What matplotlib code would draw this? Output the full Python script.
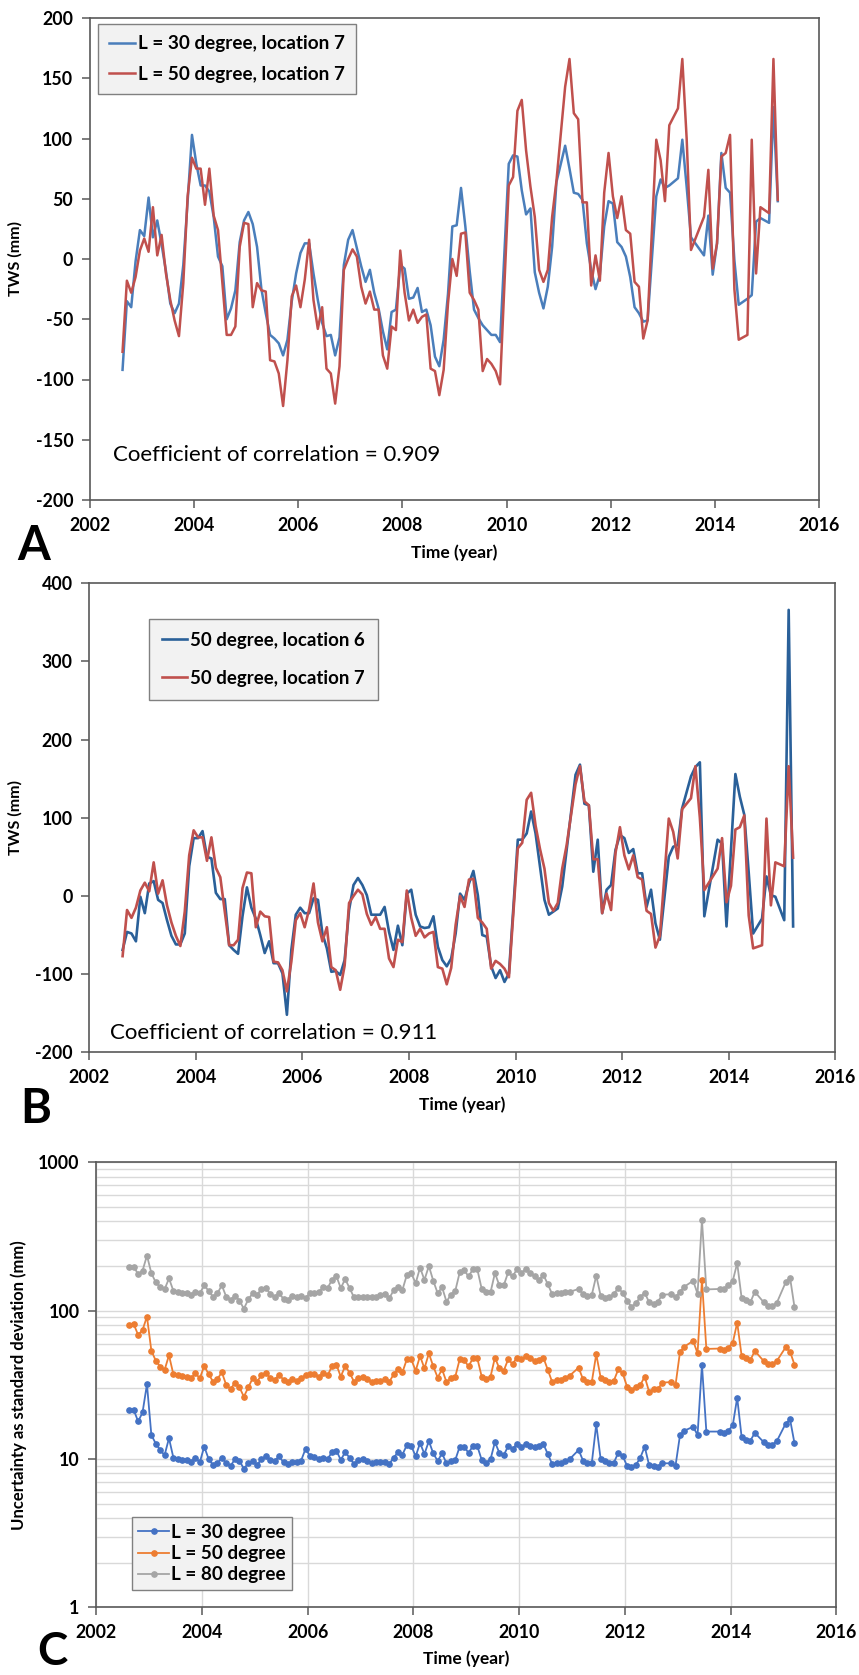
import matplotlib
matplotlib.use('Agg')
import matplotlib.pyplot as plt
from matplotlib.ticker import LogLocator, NullFormatter

plt.rcParams['font.family'] = ['Lato', 'DejaVu Sans']

# ---------------- data ----------------
# months with data (GRACE monthly solutions)
months_present = {
    2002: [8, 9, 10, 11, 12],
    2003: [1, 2, 3, 4, 5, 6, 7, 8, 9, 10, 11, 12],
    2004: [1, 2, 3, 4, 5, 6, 7, 8, 9, 10, 11, 12],
    2005: [1, 2, 3, 4, 5, 6, 7, 8, 9, 10, 11, 12],
    2006: [1, 2, 3, 4, 5, 6, 7, 8, 9, 10, 11, 12],
    2007: [1, 2, 3, 4, 5, 6, 7, 8, 9, 10, 11, 12],
    2008: [1, 2, 3, 4, 5, 6, 7, 8, 9, 10, 11, 12],
    2009: [1, 2, 3, 4, 5, 6, 7, 8, 9, 10, 11, 12],
    2010: [1, 2, 3, 4, 5, 6, 7, 8, 9, 10, 11, 12],
    2011: [2, 3, 4, 5, 6, 7, 8, 9, 10, 11, 12],
    2012: [1, 2, 3, 4, 5, 6, 7, 8, 9, 11, 12],
    2013: [1, 2, 4, 5, 6, 7, 10, 11, 12],
    2014: [1, 2, 3, 4, 5, 6, 8, 9, 10, 11],
    2015: [1, 2, 3],
}

# Panel A: L = 30 degree, location 7
tws_L30_loc7 = [
    -92, -35, -40, -2, 24,
    19, 51, 18, 32, 12, -10, -37, -45, -37, -5, 48, 103,
    79, 61, 61, 56, 35, 2, -6, -50, -41, -26, 14, 32,
    39, 29, 10, -25, -45, -63, -66, -70, -80, -67, -35, -12,
    5, 13, 13, -12, -34, -53, -64, -63, -80, -65, -5, 16,
    24, 9, -6, -19, -9, -28, -41, -60, -75, -44, -42, -5,
    -8, -33, -32, -24, -44, -42, -55, -81, -89, -67, -29, 27,
    28, 59, 27, -10, -42, -49, -55, -59, -63, -63, -69, 5,
    79, 86, 85, 57, 37, 42, -11, -28, -41, -23, 10, 64,
    94, 75, 55, 54, 49, 13, -9, -25, -13, 27, 48,
    46, 14, 10, 2, -15, -40, -45, -52, -51, 52, 66,
    59, 61, 67, 99, 60, 18, 3, 36, -13,
    13, 88, 59, 55, -1, -38, -33, -30, 31, 34,
    30, 126, 48,
]

# L = 50 degree, location 7 (panels A and B)
tws_L50_loc7 = [
    -77, -18, -28, -15, 7,
    17, 6, 43, 3, 20, -12, -34, -51, -64, -20, 52, 84,
    75, 75, 45, 75, 36, 24, -20, -63, -63, -56, 10, 30,
    29, -40, -20, -26, -27, -84, -85, -95, -122, -84, -31, -22,
    -40, -17, 16, -34, -58, -40, -91, -95, -120, -89, -9, 0,
    8, 2, -23, -37, -27, -42, -42, -80, -91, -56, -59, 7,
    -28, -51, -42, -53, -48, -46, -91, -93, -113, -92, -37, 0,
    -14, 21, 22, -28, -34, -42, -93, -83, -87, -93, -104, -22,
    61, 68, 123, 132, 90, 60, 35, -9, -19, -9, 35, 65,
    143, 166, 121, 116, 47, 47, -22, 3, -18, 55, 88,
    52, 34, 52, 24, 21, -19, -23, -66, -51, 99, 82,
    48, 111, 125, 166, 100, 7.5, 35, 74, -8,
    13, 85, 88, 103, -25, -67, -63, 99, -12, 43,
    38, 166, 49,
]

# Panel B: 50 degree, location 6
tws_L50_loc6 = [
    -69, -46, -48, -58, -1,
    -22, 16, 19, -5, -9, -31, -51, -62, -62, -48, 38, 74,
    74, 83, 50, 48, 4, -4, -4, -63, -69, -74, -26, 11,
    -15, -29, -50, -73, -58, -86, -86, -99, -152, -69, -24, -15,
    -22, -22, -3, -5, -48, -67, -97, -96, -101, -82, -18, 14,
    23, 14, 1, -24, -24, -24, -14, -46, -69, -38, -63, 3,
    8, -24, -39, -41, -40, -26, -65, -82, -90, -80, -48, 3,
    -5, 16, 32, 1, -50, -52, -90, -105, -95, -110, -99, -15,
    72, 72, 80, 108, 80, 38, -5, -24, -20, -16, 12, 59,
    155, 168, 118, 116, 31, 72, -22, 8, 14, 59, 78,
    74, 55, 60, 29, 29, -14, 8, -35, -56, 50, 63,
    65, 112, 153, 165, 171, -26, 72, 67, -39,
    58, 156, 127, 104, 30, -48, -29, 25, 1, -1,
    -31, 366, -39,
]

# Panel C: uncertainty as standard deviation (mm)
unc_L30 = [
    21.4, 21.4, 17.9, 20.6, 31.9, 14.5, 12.7, 11.5, 10.6, 13.8,
    10.2, 10.0, 9.85, 9.85, 9.5, 10.2, 9.5, 12.1, 10.0, 9.1,
    9.35, 10.2, 9.35, 9.0, 10.0, 9.7, 8.6, 9.35, 9.7, 9.1,
    10.0, 10.4, 9.85, 9.75, 10.4, 9.5, 9.25, 9.55, 9.5, 9.75,
    11.7, 10.5, 10.3, 10.0, 10.2, 10.0, 11.1, 11.4, 9.85, 11.1,
    10.2, 9.25, 9.85, 10.0, 9.75, 9.35, 9.5, 9.5, 9.5, 9.25,
    10.2, 11.1, 10.7, 12.4, 12.3, 10.4, 12.8, 10.8, 13.2, 10.9,
    9.7, 10.9, 9.35, 9.75, 9.85, 12.1, 12.1, 11.0, 12.2, 12.2,
    9.85, 9.45, 9.95, 13.0, 11.0, 10.6, 12.2, 11.7, 12.6, 12.0,
    12.6, 12.3, 12.1, 12.3, 12.6, 10.8, 9.25, 9.45, 9.45, 9.65,
    10.0, 11.5, 9.75, 9.45, 9.45, 17.1, 10.0, 9.7, 9.45, 9.45,
    11.0, 10.5, 8.97, 8.88, 9.1, 10.2, 12.1, 9.1, 8.97, 8.88,
    9.35, 9.35, 9.0, 14.4, 15.5, 16.5, 14.5, 43.1, 15.3, 15.3,
    15.0, 15.5, 16.9, 25.9, 14.1, 13.4, 13.3, 15.0, 13.0, 12.4,
    12.5, 13.2, 17.3, 18.5, 12.8,
]
unc_L50 = [
    80.1, 80.9, 68.6, 74.1, 91.1, 53.7, 46.0, 42.0, 39.8, 50.0,
    37.2, 36.8, 36.3, 35.9, 35.0, 37.8, 35.0, 42.3, 37.4, 33.2,
    34.6, 38.4, 31.5, 29.6, 32.7, 30.4, 26.3, 30.4, 35.0, 33.2,
    36.8, 38.2, 35.0, 34.3, 36.8, 34.3, 33.0, 34.6, 33.7, 35.0,
    36.8, 37.2, 37.2, 35.9, 37.8, 36.6, 42.1, 43.3, 35.9, 42.3,
    38.2, 33.2, 35.0, 35.9, 34.6, 33.2, 33.7, 33.7, 34.4, 33.0,
    37.2, 40.4, 38.4, 47.0, 47.0, 39.3, 49.4, 40.8, 51.5, 42.1,
    35.4, 40.2, 33.0, 35.0, 35.9, 47.0, 46.5, 42.1, 47.7, 47.7,
    35.9, 34.6, 35.9, 48.2, 40.8, 39.3, 47.0, 43.7, 48.2, 47.0,
    49.2, 48.2, 45.8, 46.5, 48.2, 39.8, 33.0, 34.3, 34.3, 35.4,
    36.5, 41.3, 34.4, 33.2, 33.2, 50.8, 35.4, 34.3, 33.0, 33.7,
    40.2, 37.8, 30.7, 29.2, 30.7, 31.5, 35.9, 28.4, 29.6, 29.6,
    32.7, 33.0, 31.5, 52.3, 57.2, 62.5, 51.6, 161, 55.2, 55.5,
    54.3, 56.3, 60.8, 83.0, 49.8, 47.7, 46.5, 53.5, 45.8, 43.5,
    43.5, 45.8, 56.6, 52.9, 43.3,
]
unc_L80 = [
    198, 198, 176, 186, 235, 179, 155, 144, 139, 165,
    136, 134, 132, 131, 128, 134, 131, 148, 136, 124,
    131, 148, 124, 118, 126, 117, 103, 119, 131, 128,
    140, 142, 130, 124, 131, 120, 118, 126, 123, 126,
    122, 131, 132, 134, 144, 142, 161, 171, 142, 163,
    142, 123, 124, 124, 123, 123, 124, 128, 130, 121,
    137, 144, 138, 174, 179, 153, 195, 161, 200, 159,
    131, 144, 115, 128, 136, 181, 188, 170, 190, 190,
    140, 133, 133, 179, 148, 148, 181, 170, 190, 180,
    190, 180, 170, 161, 174, 151, 129, 131, 132, 134,
    134, 140, 129, 126, 128, 172, 126, 121, 123, 130,
    142, 132, 117, 106, 112, 124, 132, 114, 110, 115,
    128, 129, 123, 134, 145, 159, 130, 409, 139, 140,
    140, 148, 159, 209, 122, 118, 114, 134, 114, 108,
    108, 113, 155, 167, 106,
]

x_ticks = [2002, 2004, 2006, 2008, 2010, 2012, 2014, 2016]
yA_ticks = [-200, -150, -100, -50, 0, 50, 100, 150, 200]
yB_ticks = [-200, -100, 0, 100, 200, 300, 400]
yC_ticks = [1, 10, 100, 1000]

# decimal time (mid-month)
time = [yr + (m - 0.5) / 12.0 for yr, ms in months_present.items() for m in ms]

# ---------------- styling ----------------
C_BLUE_A = '#4a7ebb'
C_RED = '#c0504d'
C_BLUE_B = '#2a6099'
C_C1 = '#4472c4'
C_C2 = '#ed7d31'
C_C3 = '#a5a5a5'
SPINE = '#595959'
TICKFS = 12.8
LABFS = 12.5

fig = plt.figure(figsize=(8.59, 16.75), dpi=100)
W, H = 859.0, 1675.0


def add_ax(l, t, r, b):
    return fig.add_axes([l / W, 1 - b / H, (r - l) / W, (b - t) / H])


def style_axes(ax, yticks, ylabels):
    ax.set_xlim(2002, 2016)
    ax.set_xticks(x_ticks)
    ax.set_xticklabels([str(v) for v in x_ticks], fontweight='bold', fontsize=TICKFS)
    ax.set_yticks(yticks)
    ax.set_yticklabels(ylabels, fontweight='bold', fontsize=TICKFS)
    for s in ax.spines.values():
        s.set_color(SPINE)
        s.set_linewidth(1.2)
    ax.tick_params(which='major', direction='out', length=6, width=1.1,
                   color=SPINE, pad=6)
    ax.tick_params(which='minor', length=0)


# ---------- Panel A ----------
axA = add_ax(90, 18, 819, 500)
axA.plot(time, tws_L30_loc7, color=C_BLUE_A, lw=1.8, label='L = 30 degree, location 7')
axA.plot(time, tws_L50_loc7, color=C_RED, lw=1.8, label='L = 50 degree, location 7')
axA.set_ylim(-200, 200)
style_axes(axA, yA_ticks, [str(v) for v in yA_ticks])
axA.set_ylabel('TWS (mm)', fontweight='bold', fontsize=11.5)
axA.yaxis.set_label_coords(-0.092, 0.5)
axA.set_xlabel('Time (year)', fontweight='bold', fontsize=LABFS)
axA.xaxis.set_label_coords(0.5, -0.11)
axA.xaxis.label.set_va('center')
axA.text(0.031, 0.093, 'Coefficient of correlation = 0.909', transform=axA.transAxes,
         fontsize=16, va='center', ha='left')
legA = axA.legend(loc='upper left', bbox_to_anchor=(0.011, 0.988), borderaxespad=0,
                  fancybox=False, framealpha=1, facecolor='#f2f2f2', edgecolor='#808080',
                  prop={'weight': 'bold', 'size': 13.6}, handlelength=1.35,
                  handletextpad=0.15, labelspacing=0.72, borderpad=0.6)
legA.get_frame().set_linewidth(1.0)

# ---------- Panel B ----------
axB = add_ax(89.3, 583.3, 835.3, 1052.3)
axB.plot(time, tws_L50_loc6, color=C_BLUE_B, lw=1.9, label='50 degree, location 6')
axB.plot(time, tws_L50_loc7, color=C_RED, lw=1.9, label='50 degree, location 7')
axB.set_ylim(-200, 400)
style_axes(axB, yB_ticks, [str(v) for v in yB_ticks])
axB.set_ylabel('TWS (mm)', fontweight='bold', fontsize=11.5)
axB.yaxis.set_label_coords(-0.089, 0.5)
axB.set_xlabel('Time (year)', fontweight='bold', fontsize=LABFS)
axB.xaxis.set_label_coords(0.5, -0.112)
axB.xaxis.label.set_va('center')
axB.text(0.028, 0.041, 'Coefficient of correlation = 0.911', transform=axB.transAxes,
         fontsize=16, va='center', ha='left')
legB = axB.legend(loc='upper left', bbox_to_anchor=(0.080, 0.924), borderaxespad=0,
                  fancybox=False, framealpha=1, facecolor='#f2f2f2', edgecolor='#808080',
                  prop={'weight': 'bold', 'size': 13.4}, handlelength=1.35,
                  handletextpad=0.15, labelspacing=1.12, borderpad=0.7)
legB.get_frame().set_linewidth(1.0)

# ---------- Panel C ----------
axC = add_ax(96.3, 1162.3, 836.3, 1607.3)
axC.set_yscale('log')
axC.set_ylim(1, 1000)
axC.yaxis.set_minor_locator(LogLocator(base=10, subs=[2, 3, 4, 5, 6, 7, 8, 9]))
axC.yaxis.set_minor_formatter(NullFormatter())
axC.grid(which='major', axis='both', color='#d9d9d9', lw=1.0)
axC.grid(which='minor', axis='y', color='#d9d9d9', lw=1.0)
axC.set_axisbelow(True)
axC.plot(time, unc_L30, color=C_C1, lw=1.3, marker='o', ms=3.8, label='L = 30 degree')
axC.plot(time, unc_L50, color=C_C2, lw=1.3, marker='o', ms=3.8, label='L = 50 degree')
axC.plot(time, unc_L80, color=C_C3, lw=1.3, marker='o', ms=3.8, label='L = 80 degree')
style_axes(axC, yC_ticks, [str(v) for v in yC_ticks])
axC.set_ylabel('Uncertainty as standard deviation (mm)', fontweight='bold', fontsize=12)
axC.yaxis.set_label_coords(-0.094, 0.5)
axC.set_xlabel('Time (year)', fontweight='bold', fontsize=LABFS)
axC.xaxis.set_label_coords(0.5, -0.116)
axC.xaxis.label.set_va('center')
legC = axC.legend(loc='lower left', bbox_to_anchor=(0.048, 0.039), borderaxespad=0,
                  fancybox=False, framealpha=1, facecolor='#f2f2f2', edgecolor='#808080',
                  prop={'weight': 'bold', 'size': 13.6}, handlelength=1.6,
                  handletextpad=0.1, labelspacing=0.22, borderpad=0.35)
legC.get_frame().set_linewidth(1.0)

# panel letters
fig.text(17 / W, 1 - 560 / H, 'A', fontsize=34, fontweight='bold', ha='left', va='baseline')
fig.text(20 / W, 1 - 1123 / H, 'B', fontsize=34, fontweight='bold', ha='left', va='baseline')
fig.text(37 / W, 1 - 1665 / H, 'C', fontsize=33, fontweight='bold', ha='left', va='baseline')

fig.savefig('out.png', dpi=100)
